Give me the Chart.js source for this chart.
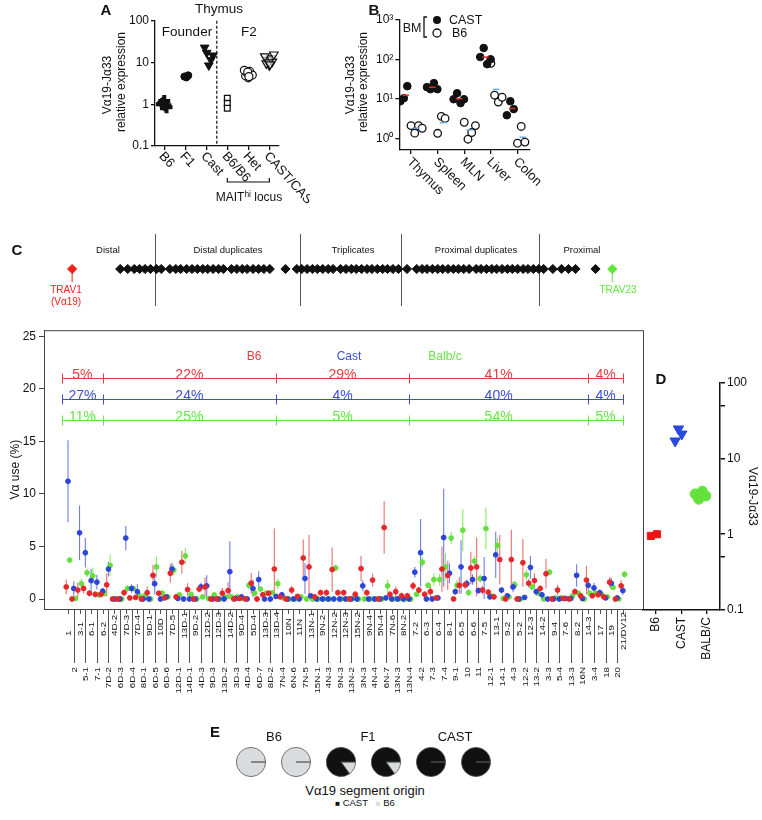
<!DOCTYPE html>
<html>
<head>
<meta charset="utf-8">
<script src="https://cdn.jsdelivr.net/npm/chart.js@4.4.0/dist/chart.umd.min.js"></script>
<style>
body { margin: 0; background: #fff; font-family: "Liberation Sans", Arial, sans-serif; }
#page { position: relative; width: 762px; height: 820px; overflow: hidden; }
canvas { position: absolute; }
.t { position: absolute; white-space: nowrap; line-height: 1; color: #111; }
.t sup { font-size: 70%; vertical-align: 0.45em; line-height: 0; }
</style>
</head>
<body>
<div id="page"></div>
<script>
// ---------- data ----------
// panel A
var aGroups = ['B6', 'F1', 'Cast', 'B6/B6', 'Het', 'CAST/CAST'];
var aB6 = [1.2, 1.0, 0.85, 1.05, 0.95];
var aF1 = [4.4, 4.6, 4.9];
var aCast = [8.5, 22.7, 14.7, 17, 11.5];
var aB6B6 = [1.4, 1.05, 0.8];
var aHet = [4.3, 4.8, 5.3, 5.7, 6.1, 6.5, 5.0, 5.9, 4.6];
var aCastCast = [8.5, 9.5, 10.5, 11.5, 12.5, 14, 15.5, 10, 9];
var aTicks = [0.1, 1, 10, 100];

// panel B
var bTissues = ['Thymus', 'Spleen', 'MLN', 'Liver', 'Colon'];
var bCast = [[8.7, 10.4, 21], [19.8, 17.6, 25, 17.6], [9.8, 13.9, 7.8, 9.8], [115, 195, 76, 101], [3.85, 8.7, 5.5]];
var bB6 = [[2.1, 1.35, 2.1, 1.8], [1.34, 3.6, 3.2], [2.55, 0.95, 1.4, 2.1], [80, 12.4, 8.3, 11], [0.75, 2.0, 0.8]];
var bTicks = [1, 10, 100, 1000];
var bTickText = ['10\u2070', '10\u00b9', '10\u00b2', '10\u00b3'];

// panel C gene map (relative position, TRAV1 = 0, TRAV23 = 100)
var genePos = [8.9, 10.3, 11.5, 12.5, 13.5, 14.5, 15.6, 16.5,
  18.1, 19.2, 20.1, 21.2, 22.2, 23.2, 24.2, 25.1, 26.1, 27.1, 28.0,
  29.5, 30.5, 31.5, 32.4, 33.5, 34.5, 35.5, 36.6, 39.5,
  41.6, 42.5, 43.5, 44.5, 45.4, 46.4, 47.4, 48.3,
  49.7, 50.7, 51.7, 52.6, 53.6, 54.6, 55.5, 56.5, 57.5, 58.4, 59.4, 60.4, 62.0,
  63.8, 64.8, 65.7, 66.7, 67.7, 68.6, 69.6, 70.6, 71.5, 72.5, 73.5,
  74.8, 75.7, 76.7, 77.7, 78.6, 79.6, 80.6, 81.5, 82.5, 83.5, 84.4, 85.4, 86.4, 87.3,
  89.0, 90.6, 91.9, 93.2, 96.9];
var sectionBounds = [15.3, 42.2, 60.9, 86.5];

// panel C usage
var genes = ['1', '2', '3-1', '5-1', '6-1', '7-1', '6-2', '7D-2', '4D-2', '6D-3',
  '7D-3', '6D-4', '7D-4', '8D-1', '9D-1', '6D-5', '10D', '6D-6', '7D-5', '12D-1',
  '13D-1', '14D-1', '9D-2', '4D-3', '12D-2', '9D-3', '12D-3', '13D-2', '14D-2', '3D-3',
  '9D-4', '4D-4', '5D-4', '6D-7', '13D-3', '8D-2', '13D-4', '7N-4', '10N', '6N-6',
  '11N', '7N-5', '13N-1', '15N-1', '9N-2', '4N-3', '12N-2', '9N-3', '12N-3', '13N-2',
  '15N-2', '3N-3', '9N-4', '4N-4', '5N-4', '6N-7', '7N-6', '13N-3', '8N-2', '13N-4',
  '7-2', '4-2', '6-3', '7-3', '6-4', '7-4', '8-1', '9-1', '6-5', '10',
  '6-6', '11', '7-5', '12-1', '13-1', '14-1', '9-2', '4-3', '5-2', '12-2',
  '12-3', '13-2', '14-2', '3-3', '9-4', '5-4', '7-6', '13-3', '8-2', '16N',
  '14-3', '3-4', '17', '18', '19', '20', '21/DV12'];
var b6Use = [1.15, 0, 0.85, 1.0, 0.55, 0.45, 0.45, 1.35, 0, 0,
  0.6, 0.1, 0.15, 0, 0.6, 2.25, 0.55, 0.1, 2.45, 0.2,
  3.5, 0.9, 0, 0.95, 1.15, 0, 0, 0.55, 0.8, 0,
  0.05, 0, 1.5, 0, 0.4, 0.55, 2.85, 0.2, 0, 0.85,
  0.25, 3.9, 3.05, 0.2, 0.6, 0.6, 2.8, 0.6, 0.6, 0,
  0.45, 2.9, 0.6, 1.8, 0, 6.8, 0.45, 0.7, 0.3, 0.3,
  1.25, 0.85, 0.45, 0.7, 0.1, 2.85, 2.25, 0, 1.3, 1.35,
  2.95, 3.05, 0.85, 0.65, 0.2, 3.75, 0, 3.75, 0, 3.45,
  1.5, 1.75, 1.0, 2.4, 0, 0.85, 0.05, 0, 0.7, 0.3,
  1.8, 0.3, 0.4, 0.2, 1.6, 0, 1.25];
var b6Err = [0.7, 0, 0.7, 0.5, 0.3, 0.3, 0.3, 1.1, 0, 0,
  0.3, 0.1, 0.1, 0, 0.6, 1.0, 0.2, 0.1, 0.9, 0.1,
  1.1, 0.6, 0, 0.3, 0.9, 0, 0, 0.5, 0.8, 0,
  0, 0, 1.0, 0, 0.2, 0.2, 3.85, 0.1, 0, 0.4,
  0.1, 1.75, 3.05, 0.1, 0.3, 0.3, 2.1, 0.3, 0.3, 0,
  0.3, 1.2, 0.3, 0.6, 0, 2.5, 0.3, 0.5, 0.3, 0.3,
  0.4, 0.3, 0.3, 0.5, 0, 2.15, 1.4, 0, 0.8, 0.4,
  1.55, 2.8, 0.4, 0.3, 0.1, 2.35, 0, 2.85, 0, 2.25,
  0.4, 0.7, 0.3, 1.4, 0, 0.5, 0, 0, 0.3, 0.1,
  1.35, 0.1, 0.2, 0.1, 0.5, 0, 0.55];
var castUse = [11.2, 1.0, 6.3, 4.4, 1.75, 1.6, 0.75, 2.85, 0, 0,
  5.8, 1.0, 0.7, 0, 0, 1.45, 0, 0.2, 2.85, 0.05,
  0, 0, 0, 1.15, 1.25, 0, 0, 0, 2.6, 0.05,
  0.2, 0, 1.0, 1.85, 0, 0, 0.25, 0.4, 0, 0,
  0, 1.95, 0.3, 0, 0, 0, 0, 0, 0, 0,
  0, 1.25, 0, 0, 0, 0.1, 0, 0, 0, 0,
  2.55, 4.4, 0, 0, 0.1, 5.85, 2.45, 0.7, 3.05, 1.45,
  1.85, 0.8, 1.95, 0.2, 4.2, 0.85, 0.3, 1.15, 0, 0.15,
  3.0, 0.7, 0.4, 0, 0, 0, 0.05, 0.05, 2.25, 0.05,
  1.3, 1.05, 0.6, 0.1, 1.5, 0.1, 0.8];
var castErr = [3.9, 0.7, 2.6, 1.4, 1.1, 0.7, 0.3, 0.7, 0, 0,
  1.15, 0.4, 0.7, 0, 0, 1.0, 0, 0, 0.6, 0,
  0, 0, 0, 0.4, 1.0, 0, 0, 0, 2.9, 0,
  0, 0, 0.8, 0.8, 0, 0, 0.2, 0.2, 0, 0,
  0, 1.45, 0.1, 0, 0, 0, 0, 0, 0, 0,
  0, 0.5, 0, 0, 0, 0, 0, 0, 0, 0,
  0.5, 3.2, 0, 0, 0, 4.65, 0.95, 0.3, 2.55, 0.4,
  0.5, 0.3, 2.05, 0.1, 2.2, 0.3, 0.2, 0.5, 0, 0,
  1.1, 0.3, 0.2, 0, 0, 0, 0, 0, 1.05, 0,
  0.6, 0.5, 0.3, 0, 0.5, 0, 0.4];
var balbUse = [3.7, 0.05, 1.45, 2.5, 2.2, 0.4, 0.55, 3.2, 0, 0,
  1.0, 1.0, 0.35, 0.3, 0, 3.05, 0.55, 0.2, 2.75, 0.4,
  4.1, 0.45, 0, 0.2, 0.05, 0.4, 0, 0.2, 0.2, 0.2,
  0.05, 1.3, 0.55, 0.95, 0.55, 0.6, 1.45, 0.1, 0, 0,
  0.2, 0, 0, 0, 0, 0, 2.95, 0, 0, 0.05,
  0, 0, 0, 0, 0, 1.25, 0, 0, 0, 0,
  0.45, 3.5, 1.3, 1.85, 1.85, 3.05, 5.8, 1.3, 6.55, 0.6,
  3.6, 1.95, 6.7, 0.3, 5.1, 0.05, 0.2, 1.35, 0, 2.3,
  1.15, 0.55, 0, 2.55, 0.1, 0.1, 0.05, 0.3, 0.55, 0,
  0.55, 0.55, 0.45, 0.2, 1.1, 0, 2.35];
var balbErr = [0, 0, 0.5, 0.4, 0.8, 0.3, 0.3, 1.0, 0, 0,
  0.3, 0.2, 0, 0, 0, 1.0, 0, 0, 0.5, 0,
  0.8, 0, 0, 0, 0, 0, 0, 0, 0, 0,
  0, 0.4, 0, 0, 0, 0, 0.5, 0, 0, 0,
  0, 0, 0, 0, 0, 0, 0.3, 0, 0, 0,
  0, 0, 0, 0, 0, 0.6, 0, 0, 0, 0,
  0.2, 0.5, 0.3, 0.6, 0.6, 1.3, 0.6, 0.5, 2.0, 0.3,
  0.5, 0.4, 2.0, 0, 0.7, 0, 0, 0.4, 0, 0.5,
  0.3, 0, 0, 0.3, 0, 0, 0, 0, 0, 0,
  0, 0, 0, 0, 0, 0, 0.3];
var cTicks = [0, 5, 10, 15, 20, 25];
// segment usage (%), segments split at these gene indexes
var segBounds = [-1, 6, 36, 59, 90, 96];
var b6Pct = [5, 22, 29, 41, 4];
var castPct = [27, 24, 4, 40, 4];
var balbPct = [11, 25, 5, 54, 5];

// panel D
var dGroups = ['B6', 'CAST', 'BALB/C'];
var dB6 = [0.95, 1.0];
var dCast = [17, 24.5, 21];
var dBalb = [3.4, 2.9, 3.7, 3.2];
var dTicks = [0.1, 0.5, 1, 10, 50, 100];

// panel E
var pieGroups = ['B6', 'B6', 'F1', 'F1', 'CAST', 'CAST'];
var pieCast = [0, 0, 85, 85, 100, 100];
var pieB6 = [100, 100, 15, 15, 0, 0];

// ---------- helpers ----------
var RED = '#e5262b', BLUE = '#2c45d8', GREEN = '#66de40';
var FONT = '"Liberation Sans", Arial, sans-serif';
Chart.defaults.font.family = FONT;
Chart.defaults.color = '#111';
Chart.defaults.animation = false;
Chart.defaults.plugins.legend.display = false;
Chart.defaults.plugins.tooltip.enabled = false;

var page = document.getElementById('page');

function mk(x, y, w, h) {
  var c = document.createElement('canvas');
  c.width = w; c.height = h;
  c.style.left = x + 'px'; c.style.top = y + 'px';
  page.appendChild(c);
  return c;
}

function txt(html, x, y, size, o) {
  o = o || {};
  var d = document.createElement('div');
  d.className = 't';
  d.innerHTML = html;
  d.style.left = x + 'px';
  d.style.top = y + 'px';
  d.style.fontSize = size + 'px';
  if (o.color) d.style.color = o.color;
  if (o.bold) d.style.fontWeight = 'bold';
  var tr = o.left ? 'translate(0,-50%)' : 'translate(-50%,-50%)';
  if (o.rot) tr += ' rotate(' + o.rot + 'deg)';
  d.style.transform = tr;
  page.appendChild(d);
}

function fixTicks(vals) {
  return function (s) { s.ticks = vals.map(function (v) { return { value: v }; }); };
}

var jit = [0, -0.18, 0.18, -0.09, 0.09, -0.27, 0.27, -0.04, 0.04];
function spread(vals, gi, shift, w) {
  return vals.map(function (v, k) { return { x: gi + shift + jit[k % jit.length] * w, y: v }; });
}
function line(vals, gi, start, step) {
  return vals.map(function (v, k) { return { x: gi + start + k * step, y: v }; });
}
function geoMean(a) {
  var s = 0;
  a.forEach(function (v) { s += Math.log(v); });
  return Math.exp(s / a.length);
}

function axisGrid() {
  return { drawOnChartArea: false, tickLength: 4, color: '#111', lineWidth: 1.3 };
}

function slantLabels(ch, names, angle, size, dx, dy) {
  var c = ch.ctx, s = ch.scales.x;
  c.save();
  c.font = size + 'px ' + FONT;
  c.fillStyle = '#111';
  c.textAlign = 'left';
  c.textBaseline = 'middle';
  names.forEach(function (n, i) {
    c.save();
    c.translate(s.getPixelForValue(i) + dx, s.top + dy);
    c.rotate(angle * Math.PI / 180);
    c.fillText(n, 0, 0);
    c.restore();
  });
  c.restore();
}

// ---------- panel A ----------
var cvA = mk(95, 0, 215, 230);
new Chart(cvA, {
  type: 'scatter',
  data: {
    datasets: [
      { data: spread(aB6, 0, 0, 0.6), pointStyle: 'cross', pointRadius: 6, pointBorderWidth: 4, pointBorderColor: '#111' },
      { data: spread(aF1, 1, 0.05, 0.5), pointStyle: 'circle', pointRadius: 3.6, pointBackgroundColor: '#111', pointBorderColor: '#111' },
      { data: spread(aCast, 2, 0.12, 1.1), pointStyle: 'triangle', pointRotation: 180, pointRadius: 5, pointBackgroundColor: '#111', pointBorderColor: '#111' },
      { data: spread(aB6B6, 3, 0, 0), pointStyle: 'rect', pointRadius: 4, pointBackgroundColor: '#fff', pointBorderColor: '#111', pointBorderWidth: 1.3 },
      { data: spread(aHet, 4, 0, 0.7), pointStyle: 'circle', pointRadius: 4, pointBackgroundColor: '#fff', pointBorderColor: '#111', pointBorderWidth: 1.2 },
      { data: spread(aCastCast, 5, 0, 0.8), pointStyle: 'triangle', pointRotation: 180, pointRadius: 5, pointBackgroundColor: 'rgba(255,255,255,0.6)', pointBorderColor: '#111', pointBorderWidth: 1.2 }
    ]
  },
  options: {
    responsive: false,
    layout: { padding: { top: 20.7, right: 31, left: 0, bottom: 0 } },
    scales: {
      x: { type: 'linear', min: -0.44, max: 5.46, afterBuildTicks: fixTicks([0, 1, 2, 3, 4, 5]),
        afterFit: function (s) { s.height = 84; }, ticks: { display: false },
        grid: axisGrid(), border: { color: '#111', width: 1.3 } },
      y: { type: 'logarithmic', min: 0.1, max: 100, afterBuildTicks: fixTicks(aTicks),
        afterFit: function (s) { s.width = 60; },
        ticks: { font: { size: 12 }, padding: 2, callback: function (v) { return String(v); } },
        grid: axisGrid(), border: { color: '#111', width: 1.3 } }
    }
  },
  plugins: [{
    id: 'aExtras',
    afterDraw: function (ch) {
      var c = ch.ctx, a = ch.chartArea, xs = ch.scales.x;
      c.save();
      c.strokeStyle = '#111'; c.lineWidth = 1.2; c.setLineDash([3, 2]);
      var xd = xs.getPixelForValue(2.5);
      c.beginPath(); c.moveTo(xd, a.top); c.lineTo(xd, a.bottom); c.stroke();
      c.setLineDash([]);
      var x1 = xs.getPixelForValue(3), x2 = xs.getPixelForValue(5), yb = 182;
      c.beginPath(); c.moveTo(x1, yb - 4); c.lineTo(x1, yb); c.lineTo(x2, yb); c.lineTo(x2, yb - 4); c.stroke();
      c.restore();
      slantLabels(ch, aGroups, 48, 13, -3, 8);
    }
  }]
});
txt('A', 106, 9, 15, { bold: true });
txt('Thymus', 219, 9, 13.5);
txt('Founder', 187, 32, 13.5);
txt('F2', 249, 32, 13.5);
txt('V&alpha;19-J&alpha;33', 107, 85, 12, { rot: -90 });
txt('relative expression', 121, 82, 12, { rot: -90 });
txt('MAIT<sup>hi</sup> locus', 249, 197, 12);

// ---------- panel B ----------
var castPts = [], b6Pts = [];
bTissues.forEach(function (t, g) {
  castPts = castPts.concat(line(bCast[g], g, -0.4, 0.13));
  b6Pts = b6Pts.concat(line(bB6[g], g, 0.0, 0.14));
});
var cvB = mk(340, 0, 210, 230);
new Chart(cvB, {
  type: 'scatter',
  data: {
    datasets: [
      { data: castPts, pointStyle: 'circle', pointRadius: 3.8, pointBackgroundColor: '#111', pointBorderColor: '#111' },
      { data: b6Pts, pointStyle: 'circle', pointRadius: 3.8, pointBackgroundColor: '#fff', pointBorderColor: '#111', pointBorderWidth: 1.3 }
    ]
  },
  options: {
    responsive: false,
    layout: { padding: { top: 20, right: 20, left: 0, bottom: 0 } },
    scales: {
      x: { type: 'linear', min: -0.44, max: 4.47, afterBuildTicks: fixTicks([0, 1, 2, 3, 4]),
        afterFit: function (s) { s.height = 80; }, ticks: { display: false },
        grid: axisGrid(), border: { color: '#111', width: 1.3 } },
      y: { type: 'logarithmic', min: 0.505, max: 1000, afterBuildTicks: fixTicks(bTicks),
        afterFit: function (s) { s.width = 59.3; },
        ticks: { font: { size: 12 }, padding: 2, callback: function (v) { return bTickText[bTicks.indexOf(v)]; } },
        grid: axisGrid(), border: { color: '#111', width: 1.3 } }
    }
  },
  plugins: [{
    id: 'bExtras',
    afterDatasetsDraw: function (ch) {
      var c = ch.ctx, xs = ch.scales.x, ys = ch.scales.y;
      c.save(); c.lineWidth = 1.5;
      bTissues.forEach(function (t, g) {
        var m1 = ys.getPixelForValue(geoMean(bCast[g]));
        c.strokeStyle = '#e0302c';
        c.beginPath(); c.moveTo(xs.getPixelForValue(g - 0.32), m1); c.lineTo(xs.getPixelForValue(g - 0.08), m1); c.stroke();
        var m2 = ys.getPixelForValue(geoMean(bB6[g]));
        c.strokeStyle = '#6aa8e8';
        c.beginPath(); c.moveTo(xs.getPixelForValue(g + 0.08), m2); c.lineTo(xs.getPixelForValue(g + 0.32), m2); c.stroke();
      });
      // legend markers
      c.strokeStyle = '#111'; c.fillStyle = '#111'; c.lineWidth = 1.3;
      c.beginPath(); c.arc(97, 20, 4, 0, Math.PI * 2); c.fill();
      c.fillStyle = '#fff';
      c.beginPath(); c.arc(97, 33, 4, 0, Math.PI * 2); c.fill(); c.stroke();
      c.beginPath(); c.moveTo(87, 17); c.lineTo(84, 17); c.lineTo(84, 37); c.lineTo(87, 37); c.stroke();
      c.restore();
    },
    afterDraw: function (ch) { slantLabels(ch, bTissues, 45, 13, -2, 10); }
  }]
});
txt('B', 374, 9, 15, { bold: true });
txt('V&alpha;19-J&alpha;33', 350, 85, 12, { rot: -90 });
txt('relative expression', 363, 82, 12, { rot: -90 });
txt('BM', 412, 28, 12.5);
txt('CAST', 449, 20, 12.5, { left: true });
txt('B6', 452, 33, 12.5, { left: true });

// ---------- panel C: gene map ----------
var cvG = mk(40, 229, 620, 80);
new Chart(cvG, {
  type: 'scatter',
  data: {
    datasets: [
      { data: genePos.map(function (p) { return { x: p, y: 0 }; }), pointStyle: 'rectRot', pointRadius: 4.6, pointBackgroundColor: '#111', pointBorderColor: '#111' },
      { data: [{ x: 0, y: 0 }], pointStyle: 'rectRot', pointRadius: 4.6, pointBackgroundColor: '#f0201c', pointBorderColor: '#f0201c' },
      { data: [{ x: 100, y: 0 }], pointStyle: 'rectRot', pointRadius: 4.6, pointBackgroundColor: '#5fe83a', pointBorderColor: '#5fe83a' }
    ]
  },
  options: {
    responsive: false,
    scales: {
      x: { type: 'linear', display: false, min: -4.91, max: 107.8 },
      y: { type: 'linear', display: false, min: -1, max: 1 }
    }
  },
  plugins: [{
    id: 'gExtras',
    beforeDatasetsDraw: function (ch) {
      var c = ch.ctx, xs = ch.scales.x, y0 = ch.scales.y.getPixelForValue(0);
      c.save(); c.lineWidth = 1; c.strokeStyle = '#555';
      sectionBounds.forEach(function (b) {
        var x = Math.round(xs.getPixelForValue(b)) + 0.5;
        c.beginPath(); c.moveTo(x, 5); c.lineTo(x, 77); c.stroke();
      });
      [[0, '#f0201c'], [100, '#5fe83a']].forEach(function (m) {
        var x = xs.getPixelForValue(m[0]);
        c.strokeStyle = m[1];
        c.beginPath(); c.moveTo(x, y0); c.lineTo(x, y0 + 13); c.stroke();
      });
      c.restore();
    }
  }]
});
txt('C', 17, 249, 15, { bold: true });
txt('Distal', 108, 250, 9.5);
txt('Distal duplicates', 228, 250, 9.5);
txt('Triplicates', 353, 250, 9.5);
txt('Proximal duplicates', 476, 250, 9.5);
txt('Proximal', 582, 250, 9.5);
txt('TRAV1', 66, 290, 10, { color: '#f0201c' });
txt('(V&alpha;19)', 66, 302, 10, { color: '#f0201c' });
txt('TRAV23', 618, 290, 10, { color: '#5fe83a' });

// ---------- panel C: usage ----------
function usePts(vals, off) { return vals.map(function (v, i) { return { x: i + off, y: v }; }); }
var cvC = mk(0, 320, 650, 410);
new Chart(cvC, {
  type: 'scatter',
  data: {
    datasets: [
      { label: 'B6', data: usePts(b6Use, -0.3), err: b6Err, errColor: 'rgba(232,60,60,0.75)', pointRadius: 2.4, pointBackgroundColor: RED, pointBorderColor: RED },
      { label: 'Cast', data: usePts(castUse, 0), err: castErr, errColor: 'rgba(60,80,220,0.75)', pointRadius: 2.4, pointBackgroundColor: BLUE, pointBorderColor: BLUE },
      { label: 'Balb/c', data: usePts(balbUse, 0.3), err: balbErr, errColor: 'rgba(110,225,70,0.8)', pointRadius: 2.4, pointBackgroundColor: GREEN, pointBorderColor: GREEN }
    ]
  },
  options: {
    responsive: false,
    layout: { padding: { top: 9, right: 7, left: 0, bottom: 121 } },
    scales: {
      x: { type: 'linear', display: false, min: -4.15, max: 99.48 },
      y: { type: 'linear', min: -0.95, max: 25.57, afterBuildTicks: fixTicks(cTicks),
        afterFit: function (s) { s.width = 44; },
        title: { display: true, text: 'V\u03b1 use (%)', font: { size: 12 }, padding: { top: 8, bottom: 2 } },
        ticks: { font: { size: 12 }, padding: 3 },
        grid: { drawOnChartArea: false, tickLength: 5, color: '#444', lineWidth: 1 },
        border: { color: '#444', width: 1 } }
    }
  },
  plugins: [{
    id: 'cExtras',
    beforeDatasetsDraw: function (ch) {
      var c = ch.ctx, xs = ch.scales.x, ys = ch.scales.y;
      c.save(); c.lineWidth = 1.1;
      ch.data.datasets.forEach(function (ds) {
        c.strokeStyle = ds.errColor;
        ds.data.forEach(function (p, i) {
          var e = ds.err[i];
          if (!e) return;
          var x = xs.getPixelForValue(p.x);
          c.beginPath();
          c.moveTo(x, ys.getPixelForValue(Math.max(0, p.y - e)));
          c.lineTo(x, ys.getPixelForValue(p.y + e));
          c.stroke();
        });
      });
      c.restore();
    },
    afterDraw: function (ch) {
      var c = ch.ctx, a = ch.chartArea, xs = ch.scales.x, ys = ch.scales.y;
      c.save();
      c.strokeStyle = '#444'; c.lineWidth = 1;
      c.strokeRect(a.left + 0.5, a.top + 0.5, a.right - a.left, a.bottom - a.top);
      // gene ticks and names (stretched along the text direction like the original)
      var stretch = 1.3;
      c.font = '7.5px ' + FONT; c.fillStyle = '#111'; c.textBaseline = 'middle';
      c.strokeStyle = '#555';
      genes.forEach(function (g, i) {
        var x = Math.round(xs.getPixelForValue(i)) + 0.5, odd = i % 2 === 1;
        c.beginPath(); c.moveTo(x, a.bottom); c.lineTo(x, a.bottom + (odd ? 54 : 5)); c.stroke();
        c.save();
        if (odd) {
          c.translate(x, a.bottom + 58); c.rotate(-Math.PI / 2); c.scale(stretch, 1); c.textAlign = 'right';
        } else {
          var w = c.measureText(g).width * stretch;
          c.translate(x, Math.max(a.bottom + 27, a.bottom + 3 + w)); c.rotate(-Math.PI / 2); c.scale(stretch, 1); c.textAlign = 'left';
        }
        c.fillText(g, 0, 0);
        c.restore();
      });
      // segment percentages
      var rows = [[b6Pct, '#e8393c', 21], [castPct, '#3b4fd1', 19], [balbPct, '#6be04a', 17]];
      c.font = '14px ' + FONT; c.textAlign = 'center'; c.textBaseline = 'alphabetic';
      rows.forEach(function (r) {
        var y = Math.round(ys.getPixelForValue(r[2])) + 0.5;
        c.strokeStyle = r[1]; c.fillStyle = r[1];
        c.beginPath(); c.moveTo(xs.getPixelForValue(segBounds[0]), y); c.lineTo(xs.getPixelForValue(segBounds[segBounds.length - 1]), y); c.stroke();
        segBounds.forEach(function (b) {
          var x = Math.round(xs.getPixelForValue(b)) + 0.5;
          c.beginPath(); c.moveTo(x, y - 5); c.lineTo(x, y + 5); c.stroke();
        });
        r[0].forEach(function (p, k) {
          var cx = xs.getPixelForValue((segBounds[k] + segBounds[k + 1]) / 2);
          c.fillText(p + '%', cx, y);
        });
      });
      c.restore();
    }
  }]
});
txt('B6', 254, 356, 12, { color: '#e8393c' });
txt('Cast', 349, 356, 12, { color: '#3b4fd1' });
txt('Balb/c', 445, 356, 12, { color: '#6be04a' });

// ---------- panel D ----------
var cvD = mk(600, 370, 162, 450);
new Chart(cvD, {
  type: 'scatter',
  data: {
    datasets: [
      { data: line(dB6, 0, -0.2, 0.24), pointStyle: 'rect', pointRadius: 5, pointBackgroundColor: '#f01515', pointBorderColor: '#f01515' },
      { data: line(dCast, 1, -0.24, 0.13), pointStyle: 'triangle', pointRotation: 180, pointRadius: 6, pointBackgroundColor: '#2b48e0', pointBorderColor: '#2b48e0' },
      { data: line(dBalb, 2, -0.45, 0.14), pointStyle: 'circle', pointRadius: 5, pointBackgroundColor: '#62e23a', pointBorderColor: '#62e23a' }
    ]
  },
  options: {
    responsive: false,
    layout: { padding: { top: 12.7, right: 0, left: 43, bottom: 0 } },
    scales: {
      x: { type: 'linear', min: -0.51, max: 2.53, afterBuildTicks: fixTicks([0, 1, 2]),
        afterFit: function (s) { s.height = 210; },
        ticks: { font: { size: 12 }, minRotation: 90, maxRotation: 90, padding: 3, callback: function (v) { return dGroups[v]; } },
        grid: axisGrid(), border: { color: '#111', width: 1.5 } },
      y: { type: 'logarithmic', position: 'right', min: 0.1, max: 100, afterBuildTicks: fixTicks(dTicks),
        afterFit: function (s) { s.width = 42; },
        title: { display: true, text: 'V\u03b119-J\u03b133', font: { size: 12 }, padding: { top: 2, bottom: 4 } },
        ticks: { font: { size: 12 }, padding: 2, callback: function (v) { return [0.1, 1, 10, 100].indexOf(v) >= 0 ? String(v) : ''; } },
        grid: { drawOnChartArea: false, tickLength: 5, color: '#111', lineWidth: 1.5 },
        border: { color: '#111', width: 1.5 } }
    }
  }
});
txt('D', 661, 378, 15, { bold: true });

// ---------- panel E ----------
pieGroups.forEach(function (g, i) {
  var cv = mk(236 + i * 45, 747, 30, 30);
  new Chart(cv, {
    type: 'pie',
    data: {
      labels: ['B6', 'CAST'],
      datasets: [{ data: [pieB6[i], pieCast[i]], backgroundColor: ['#d9dcdc', '#111'], borderColor: '#555', borderWidth: 0.8 }]
    },
    options: { responsive: false, rotation: 90 }
  });
});
txt('E', 215, 731, 15, { bold: true });
txt('B6', 274, 736, 13);
txt('F1', 368, 736, 13);
txt('CAST', 455, 736, 13);
txt('V&alpha;19 segment origin', 365, 790, 13);
txt('<span style="font-size:8px">&#9632;</span> CAST &nbsp; <span style="color:#d9dcdc;font-size:8px">&#9632;</span> B6', 365, 803, 9.5);
</script>
</body>
</html>
